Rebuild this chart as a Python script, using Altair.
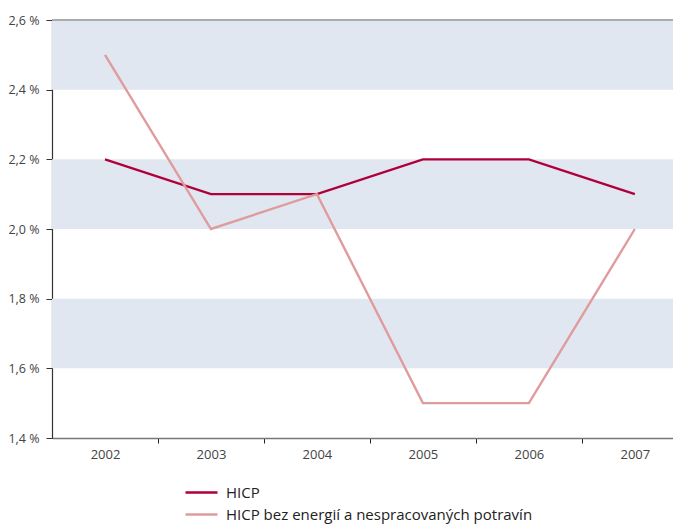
import altair as alt
import pandas as pd

years = [2002, 2003, 2004, 2005, 2006, 2007]
hicp = [2.2, 2.1, 2.1, 2.2, 2.2, 2.1]
hicp_core = [2.5, 2.0, 2.1, 1.5, 1.5, 2.0]
series_names = ["HICP", "HICP bez energií a nespracovaných potravín"]
series_colors = ["#b0003a", "#e09c9c"]

band_lo = [2.4, 2.0, 1.6]
band_hi = [2.6, 2.2, 1.8]

y_ticks = [1.4, 1.6, 1.8, 2.0, 2.2, 2.4, 2.6]
x_axis_values = [2002, 2002.5, 2003, 2003.5, 2004, 2004.5, 2005, 2005.5,
                 2006, 2006.5, 2007]

lines = pd.DataFrame({
    "rok": years * 2,
    "hodnota": hicp + hicp_core,
    "rada": [series_names[0]] * len(years) + [series_names[1]] * len(years),
})
bands = pd.DataFrame({"lo": band_lo, "hi": band_hi})

FONT = "Open Sans"

x_scale = alt.Scale(domain=[2001.5, 2007.36], nice=False, zero=False)
y_scale = alt.Scale(domain=[1.4, 2.6], nice=False, zero=False)

y_axis = alt.Axis(
    values=y_ticks,
    labelExpr="replace(format(datum.value, '.1f'), '.', ',') + ' %'",
    grid=False,
    domainColor="#333333",
    domainWidth=1.2,
    tickColor="#333333",
    tickSize=6,
    labelFont=FONT,
    labelFontSize=12.5,
    labelColor="#444444",
    labelPadding=7,
)

band_layer = alt.Chart(bands).mark_rect(color="#e1e7f1").encode(
    y=alt.Y("lo:Q", scale=y_scale, axis=y_axis, title=None),
    y2="hi:Q",
)

top_rule = alt.Chart(bands).mark_rule(color="#aaaaaa", strokeWidth=1.5).encode(
    y=alt.datum(2.6),
)

line_layer = alt.Chart(lines).mark_line(strokeWidth=2.4).encode(
    x=alt.X(
        "rok:Q",
        scale=x_scale,
        title=None,
        axis=alt.Axis(
            values=x_axis_values,
            labelExpr="datum.value % 1 == 0 ? toString(datum.value) : ''",
            grid=False,
            domainColor="#777777",
            domainWidth=1.5,
            tickColor=alt.condition("datum.value % 1 == 0",
                                    alt.value("transparent"), alt.value("#222222")),
            tickSize=5,
            labelFont=FONT,
            labelFontSize=13,
            labelColor="#444444",
            labelPadding=5,
        ),
    ),
    y=alt.Y("hodnota:Q", scale=y_scale, axis=y_axis, title=None),
    color=alt.Color(
        "rada:N",
        scale=alt.Scale(domain=series_names, range=series_colors),
        legend=alt.Legend(
            title=None,
            orient="none",
            legendX=142,
            legendY=465,
            padding=0,
            symbolType="M-3.2,0H3.2",
            symbolSize=100,
            symbolStrokeWidth=2.5,
            symbolFillColor="transparent",
            labelFont=FONT,
            labelFontSize=15,
            labelColor="#222222",
            labelOffset=17,
            labelLimit=500,
            rowPadding=6,
        ),
    ),
)

chart = alt.layer(band_layer, top_rule, line_layer).properties(
    width=621,
    height=418,
    padding={"left": 52, "top": 20, "right": 0, "bottom": 87},
    autosize=alt.AutoSizeParams(type="none"),
).configure_view(stroke=None)

chart.save("out.html", embed_options={"renderer": "svg", "actions": False})
